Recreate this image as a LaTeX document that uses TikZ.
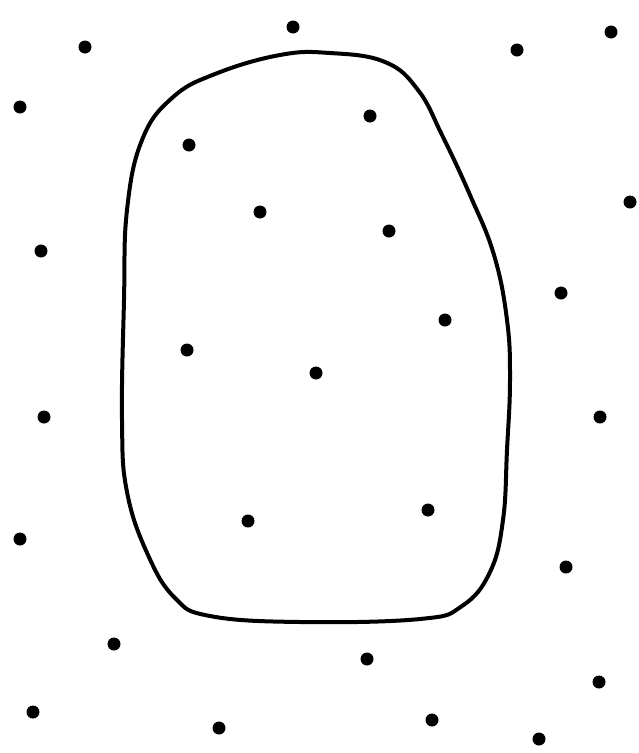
\documentclass[tikz,border=0pt]{standalone}
\begin{document}
\begin{tikzpicture}[x=1pt,y=-1pt]
\useasboundingbox[fill=white] (0,0) rectangle (639,753);
\draw[line width=4pt,line join=round] plot[smooth cycle,tension=0.7] coordinates {
(330,53) (385,62) (418,90) (442,135) (470,195) (494,255) (507,320) (510,380) (507,450) (503,520) (490,572) (462,606) (420,619) (300,622) (210,616) (175,598) (148,555) (127,492) (122,420) (124,300) (127,210) (142,140) (172,98) (215,74) (280,55)};
\foreach \x/\y [count=\i] in {293/27,85/47,517/50,611/32,20/107,370/116,189/145,630/202,260/212,389/231,41/251,561/293,445/320,187/350,316/373,44/417,600/417,248/521,428/510,20/539,566/567,114/644,367/659,599/682,33/712,219/728,432/720,539/739}
  \fill (\x,\y) circle (6.5pt) coordinate (d\i);
\end{tikzpicture}
\end{document}
